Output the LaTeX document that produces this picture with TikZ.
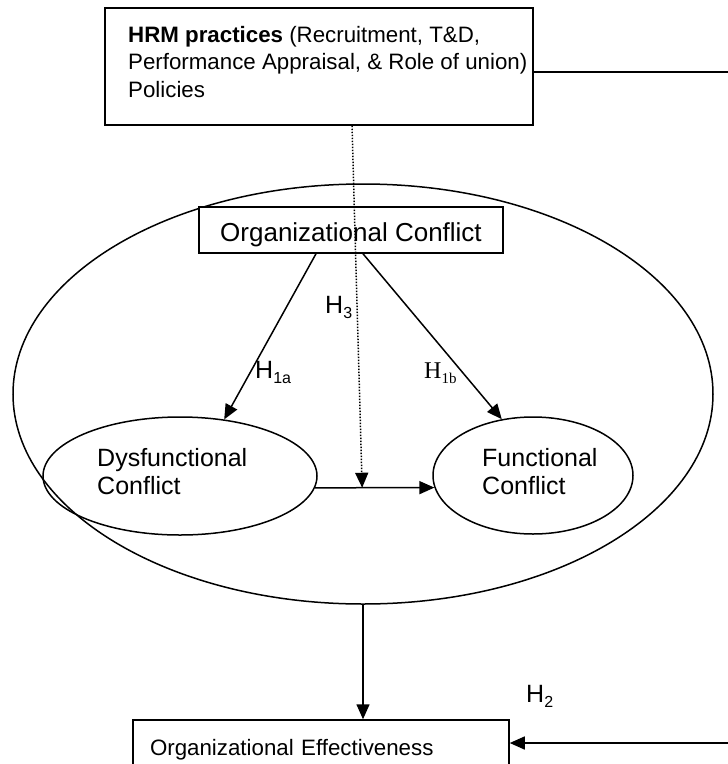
\documentclass[tikz,border=0pt]{standalone}
\usepackage{fontspec}
\setmainfont{Liberation Sans}
\newfontfamily\hserif{Liberation Serif}
\usetikzlibrary{arrows.meta,shapes.geometric,calc}
\tikzset{
  ln/.style={line width=1.5pt},
  arr/.style={ln,-{Triangle[length=15pt,width=13pt]}},
  dotarr/.style={line width=1.5pt,dash pattern=on 1.4pt off 1.6pt,-{Triangle[length=15pt,width=13pt]}},
  box/.style={draw,ln,fill=white,rectangle,inner sep=0pt},
  ell/.style={draw,ln,ellipse,inner sep=0pt},
  txt/.style={inner sep=0pt,align=left},
  lbl/.style={inner sep=0pt,anchor=base west,font=\fontsize{25}{25}\selectfont},
}
\newcommand\hsub[1]{\raisebox{-5pt}{\fontsize{16}{16}\selectfont #1}}
\begin{document}
\begin{tikzpicture}[x=1pt,y=-1pt]
\clip (0,0) rectangle (728,764);
\fill[white] (0,0) rectangle (728,764);
% outer ellipse
\node[ell,minimum width=700pt,minimum height=420pt] (outer) at (363,394) {};
% top box
\node[box,minimum width=428pt,minimum height=117pt] (hrm) at (319,66.5) {};
\node[txt,anchor=north west,font=\fontsize{22.3}{27.5}\selectfont] (hrmt) at (128,26)
  {\textbf{HRM practices} (Recruitment, T\&D,\\Performance Appraisal, \& Role of union)\\Policies};
% organizational conflict
\node[box,minimum width=304pt,minimum height=46pt,text height=23pt,text depth=0pt,
  font=\fontsize{26}{30}\selectfont] (orgc) at (351,230) {Organizational Conflict};
% inner ellipses
\node[ell,minimum width=274pt,minimum height=118pt] (dys) at (180,476) {};
\node[txt,anchor=north west,font=\fontsize{25}{28}\selectfont] (dyst) at (97,448) {Dysfunctional\\Conflict};
\node[ell,minimum width=200pt,minimum height=117pt] (fun) at (533,475.5) {};
\node[txt,anchor=north west,font=\fontsize{25}{28}\selectfont] (funt) at (482,448) {Functional\\Conflict};
% effectiveness box
\node[box,minimum width=376pt,minimum height=60pt,text width=342pt,inner xsep=17pt,align=left,
  text height=10pt,text depth=0pt,font=\fontsize{22.3}{26}\selectfont] (oe) at (321,750) {Organizational Effectiveness};
% connectors
\draw[arr] ([xshift=-35pt]orgc.south) -- (dys.52);
\draw[arr] ([xshift=12pt]orgc.south) -- (fun.119);
\draw[arr] (dys.-5) -- coordinate[pos=0.395] (hj) (fun.187);
\draw[dotarr] ([xshift=33pt]hrm.south) -- (hj);
\draw[arr] (outer.south) -- (outer.south |- oe.north);
\coordinate (rtop) at (728,72);
\draw[ln] (hrm.east |- rtop) -- (rtop);
\coordinate (rin) at (728,743);
\draw[arr] (rin) -- (rin -| oe.east);
% labels
\node[lbl] (h3) at (325,313) {H\hsub{3}};
\node[lbl] (h1a) at (255,378) {H\hsub{1a}};
\node[lbl,font=\hserif\fontsize{24}{24}\selectfont] (h1b) at (424,378) {H\raisebox{-5pt}{\fontsize{15}{15}\selectfont 1b}};
\node[lbl] (h2) at (526,702) {H\hsub{2}};
\end{tikzpicture}
\end{document}
